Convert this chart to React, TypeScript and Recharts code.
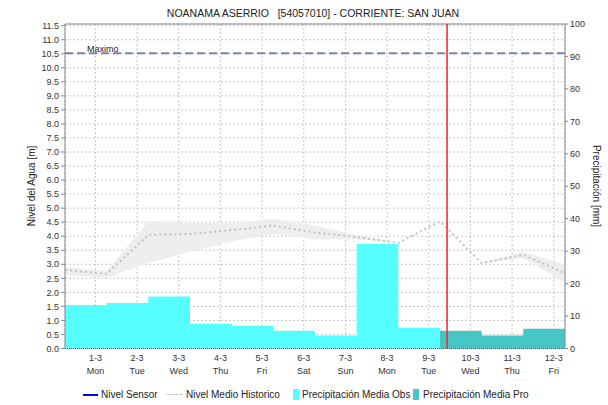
import React from 'react';
import { ComposedChart, Area, Line, XAxis, YAxis, CartesianGrid, ReferenceLine } from 'recharts';

// days shown on the axis (day i spans x = i .. i+1)
const days = ['1-3', '2-3', '3-3', '4-3', '5-3', '6-3', '7-3', '8-3', '9-3', '10-3', '11-3', '12-3'];
const weekdays = ['Mon', 'Tue', 'Wed', 'Thu', 'Fri', 'Sat', 'Sun', 'Mon', 'Tue', 'Wed', 'Thu', 'Fri'];

// precipitation [mm], observed days then forecast days
const precipObs = [13.4, 14.0, 16.0, 7.6, 7.0, 5.5, 4.0, 32.2, 6.4];
const precipPro = [5.5, 4.0, 6.1];

// historic mean level [m] at day boundaries, with its min / max band
const histMean = [2.8, 2.66, 4.05, 4.08, 4.22, 4.38, 4.13, 3.97, 3.76, 4.53, 3.04, 3.34, 2.68];
const histLow = [2.62, 2.52, 3.04, 3.45, 3.81, 4.08, 3.88, 3.9, 3.76, 4.53, 3.04, 3.22, 2.33];
const histHigh = [2.9, 2.76, 4.53, 4.49, 4.45, 4.62, 4.38, 4.03, 3.76, 4.53, 3.04, 3.45, 2.98];

const nivelMaximo = 10.52;
const ahora = 9.17;
const tickOffset = 0.73;

const levelTicks = Array.from({ length: 24 }, (_, i) => i * 0.5);
const precipTicks = [0, 10, 20, 30, 40, 50, 60, 70, 80, 90, 100];
const dayTicks = days.map((_, i) => i + tickOffset);

const nObs = precipObs.length;
const data = histMean.map((h, i) => ({
  x: i,
  hist: h,
  lo: histLow[i],
  hi: histHigh[i],
  obs: i < nObs ? precipObs[i] : i === nObs ? precipObs[nObs - 1] : null,
  pro: i >= nObs ? precipPro[Math.min(i - nObs, precipPro.length - 1)] : null,
}));

const FONT = '"Liberation Sans", Arial, sans-serif';

const DayTick = (props: any) => {
  const { x, y, payload } = props;
  const i = Math.round(payload.value - tickOffset);
  return (
    <g>
      <text x={x} y={y + 12} textAnchor="middle" fontSize={9} fill="#333" fontFamily={FONT}>{days[i]}</text>
      <text x={x} y={y + 25} textAnchor="middle" fontSize={9} fill="#333" fontFamily={FONT}>{weekdays[i]}</text>
    </g>
  );
};

const legendText: React.CSSProperties = { position: 'absolute', top: 388, fontSize: 10, color: '#222', lineHeight: '13px', whiteSpace: 'nowrap' };

export default function App() {
  return (
    <div style={{ position: 'absolute', left: 0, top: 0, width: 608, height: 405, background: '#fff', fontFamily: FONT }}>
      <div style={{ position: 'absolute', top: 7, left: 0, width: 626, textAlign: 'center', fontSize: 10.5, color: '#222', whiteSpace: 'pre' }}>
        {'NOANAMA ASERRIO   [54057010] - CORRIENTE: SAN JUAN'}
      </div>
      <ComposedChart width={608} height={405} data={data} margin={{ top: 24, right: 0, bottom: 26.5, left: 5 }}>
        <CartesianGrid yAxisId="left" stroke="#c8c8c8" strokeDasharray="2 2" />
        <XAxis
          dataKey="x"
          type="number"
          domain={[0, 12]}
          ticks={dayTicks}
          tick={<DayTick />}
          tickLine={false}
          tickSize={0}
          tickMargin={0}
          height={30}
          axisLine={{ stroke: '#555', strokeDasharray: '1 1' }}
          interval={0}
        />
        <YAxis
          yAxisId="left"
          domain={[0, 11.56]}
          ticks={levelTicks}
          interval={0}
          allowDataOverflow
          width={60}
          tickSize={4}
          tickMargin={2}
          tickFormatter={(v: number) => v.toFixed(1)}
          tick={{ fontSize: 9, fill: '#333', fontFamily: FONT }}
          axisLine={{ stroke: '#888' }}
          tickLine={{ stroke: '#888' }}
        />
        <YAxis
          yAxisId="right"
          orientation="right"
          domain={[0, 100]}
          ticks={precipTicks}
          interval={0}
          width={43}
          tickSize={3}
          tickMargin={2}
          tick={{ fontSize: 9, fill: '#333', fontFamily: FONT }}
          axisLine={{ stroke: '#888' }}
          tickLine={{ stroke: '#888' }}
        />
        <Area
          yAxisId="left"
          type="linear"
          dataKey={(d: any) => [d.lo, d.hi]}
          stroke="none"
          fill="#eeeeee"
          fillOpacity={1}
          isAnimationActive={false}
        />
        <Area
          yAxisId="right"
          type="stepAfter"
          dataKey="obs"
          stroke="none"
          fill="#55ffff"
          fillOpacity={1}
          isAnimationActive={false}
        />
        <Area
          yAxisId="right"
          type="stepAfter"
          dataKey="pro"
          stroke="none"
          fill="#47c6c6"
          fillOpacity={1}
          isAnimationActive={false}
        />
        <Line
          yAxisId="left"
          type="linear"
          dataKey="hist"
          stroke="#c2c2c2"
          strokeWidth={2}
          strokeDasharray="2 3"
          dot={false}
          isAnimationActive={false}
        />
        <ReferenceLine
          yAxisId="left"
          y={nivelMaximo}
          stroke="#7b84a8"
          strokeWidth={2}
          strokeDasharray="8 4"
          label={{ value: 'Maximo', position: 'insideBottomLeft', offset: 1, dx: 21, fontSize: 9, fill: '#222' }}
        />
        <ReferenceLine yAxisId="right" y={100} stroke="#888" />
        <ReferenceLine yAxisId="left" x={ahora} stroke="#ff2020" strokeWidth={1.5} />
      </ComposedChart>

      <div style={{ position: 'absolute', left: 31, top: 186, transform: 'translate(-50%, -50%) rotate(-90deg)', fontSize: 10, color: '#222', whiteSpace: 'nowrap' }}>
        Nivel del Agua [m]
      </div>
      <div style={{ position: 'absolute', left: 596, top: 186, transform: 'translate(-50%, -50%) rotate(90deg)', fontSize: 10, color: '#222', whiteSpace: 'nowrap' }}>
        Precipitación [mm]
      </div>

      <div style={{ position: 'absolute', left: 83, top: 394, width: 15, height: 1.5, background: '#0000ff' }} />
      <div style={{ ...legendText, left: 101 }}>Nivel Sensor</div>
      <div style={{ position: 'absolute', left: 167, top: 394, width: 15, height: 0, borderTop: '1.5px dashed #c2c2c2' }} />
      <div style={{ ...legendText, left: 186 }}>Nivel Medio Historico</div>
      <div style={{ position: 'absolute', left: 293, top: 389, width: 6, height: 11, background: '#55ffff' }} />
      <div style={{ ...legendText, left: 302 }}>Precipitación Media Obs</div>
      <div style={{ position: 'absolute', left: 413, top: 389, width: 6, height: 11, background: '#47c6c6' }} />
      <div style={{ ...legendText, left: 423 }}>Precipitación Media Pro</div>
    </div>
  );
}
